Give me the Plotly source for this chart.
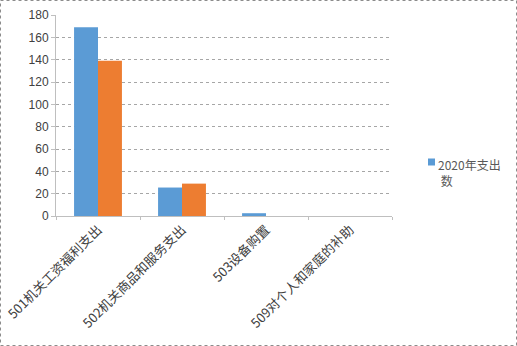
import plotly.graph_objects as go

categories = ["501机关工资福利支出", "502机关商品和服务支出", "503设备购置", "509对个人和家庭的补助"]
series_2020 = [169, 25.5, 2.5, 0]
series_other = [139, 29, 0, 0]
legend_text = "2020年支出<br> 数"
y_ticks = [0, 20, 40, 60, 80, 100, 120, 140, 160, 180]

W, H = 517, 346
L, R, T, B = 56, 125, 15, 130
pw, ph = W - L - R, H - T - B

fig = go.Figure()
fig.add_trace(go.Bar(x=categories, y=series_2020, name="2020年支出数",
                     marker=dict(color="#5B9BD5", line=dict(width=0))))
fig.add_trace(go.Bar(x=categories, y=series_other, name="other",
                     marker=dict(color="#ED7D31", line=dict(width=0))))

fig.update_layout(
    width=W, height=H,
    margin=dict(l=L, r=R, t=T, b=B, autoexpand=False),
    paper_bgcolor="white", plot_bgcolor="white",
    barmode="group", bargap=0.43, bargroupgap=0,
    font=dict(family="Noto Sans CJK SC, Liberation Sans, sans-serif", size=11, color="#404040"),
    showlegend=False,
)
fig.update_yaxes(range=[0, 180], tickvals=y_ticks, showgrid=True,
                 gridcolor="#a6a6a6", griddash="dot", gridwidth=1,
                 showline=True, linecolor="#bfbfbf", linewidth=1,
                 ticks="outside", ticklen=4, tickcolor="#bfbfbf",
                 tickfont=dict(family="Liberation Sans, Arial, sans-serif", size=12, color="#404040"),
                 zeroline=False, automargin=False)
fig.update_xaxes(showline=True, linecolor="#bfbfbf", linewidth=1,
                 tickangle=-45, ticks="outside", tickson="boundaries", ticklen=3,
                 tickcolor="#bfbfbf",
                 tickfont=dict(size=13, color="#404040"),
                 showgrid=False, automargin=False)

# legend (marker + wrapped text)
lx = (428 - L) / pw
ly = (216 - 162) / ph
fig.add_shape(type="rect", xref="paper", yref="paper",
              x0=lx, x1=lx + 7 / pw, y0=ly - 3.5 / ph, y1=ly + 3.5 / ph,
              fillcolor="#5B9BD5", line=dict(width=0))
fig.add_annotation(xref="paper", yref="paper", x=lx + 8 / pw, y=ly + 8 / ph,
                   xanchor="left", yanchor="top", align="left", showarrow=False,
                   text=legend_text, font=dict(size=12, color="#595959"))

fig.add_shape(type="rect", xref="paper", yref="paper",
              x0=(-L + 0.5) / pw, x1=(W - L - 0.5) / pw,
              y0=(-B + 0.5) / ph, y1=1 + (T - 0.5) / ph,
              line=dict(color="#8c8c8c", width=1, dash="dot"))

fig.write_html("out.html")
